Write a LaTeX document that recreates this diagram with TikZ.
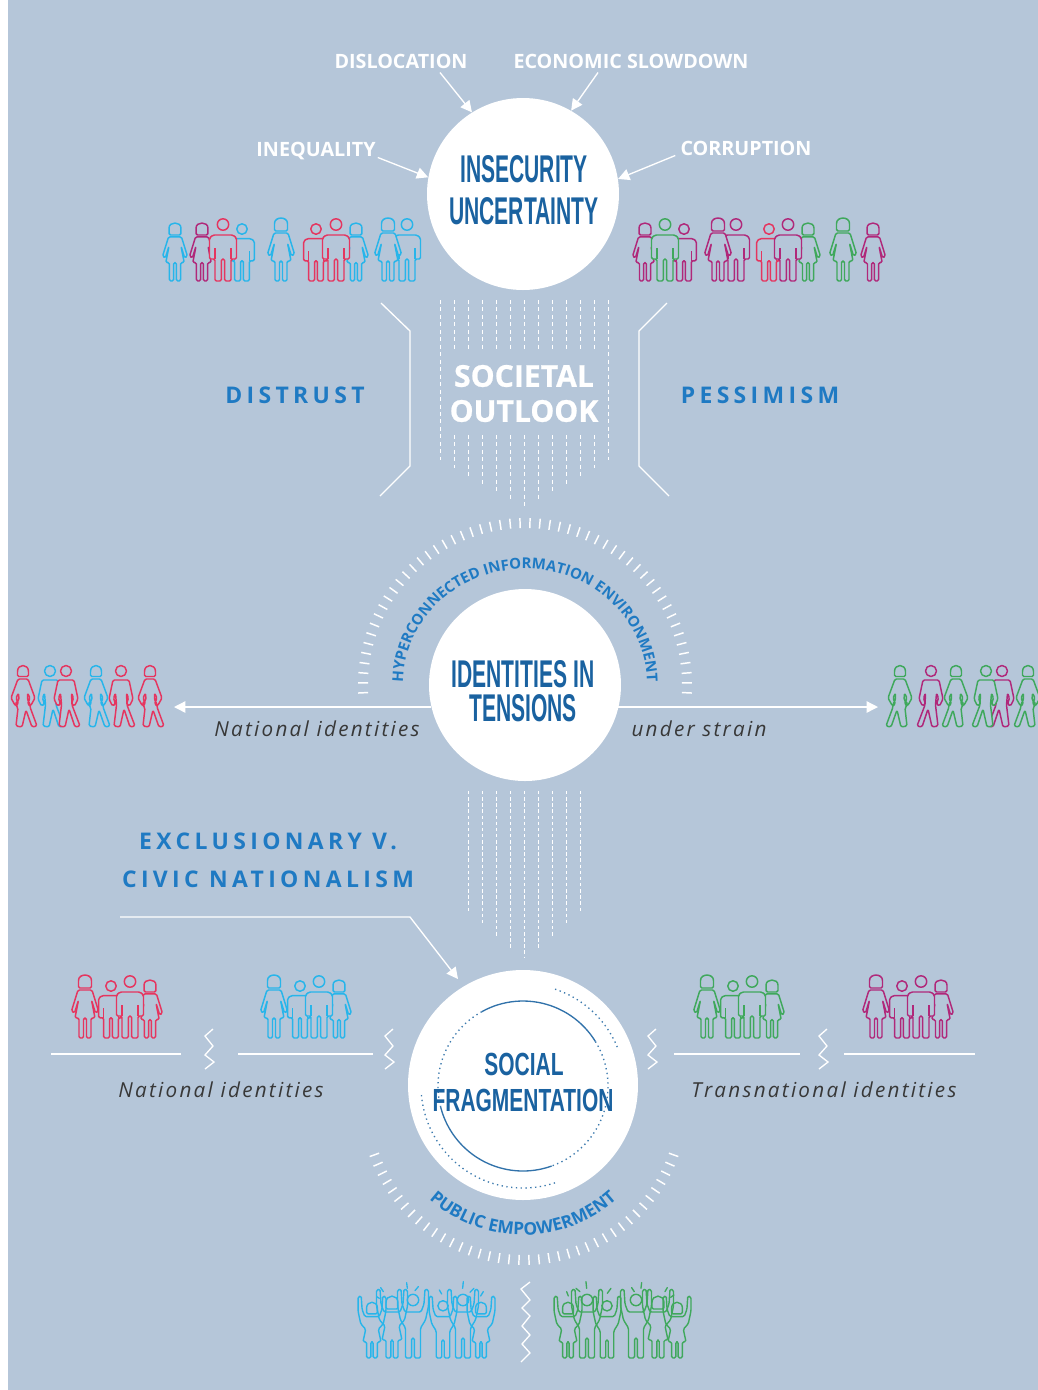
\documentclass[tikz,border=0pt]{standalone}
\usepackage{fontspec}
\usetikzlibrary{arrows.meta,calc,decorations.text}
\setmainfont{Open Sans}
\newfontfamily\osw[FakeStretch=.545]{Liberation Sans}
\newfontfamily\oswb[FakeStretch=.655]{Liberation Sans}
\newfontfamily\opn{Open Sans}
\definecolor{bg}{HTML}{B5C6D9}
\definecolor{deep}{HTML}{1A62A0}
\definecolor{lbl}{HTML}{1F7AC3}
\definecolor{cblue}{HTML}{27B5EA}
\definecolor{cred}{HTML}{E5355F}
\definecolor{cpur}{HTML}{B0287A}
\definecolor{cgrn}{HTML}{3FA85C}
\tikzset{
 iconline/.style={draw=#1,fill=bg,line width=1.1pt,rounded corners=1.1pt,line join=round},
 openline/.style={draw=#1,line width=1.05pt,rounded corners=1.1pt,line join=round},
 rayline/.style={draw=#1,line width=1pt,line cap=round},
 wline/.style={draw=white,line width=1pt},
 arr/.style={draw=white,line width=1pt,-{Triangle[length=8.5pt,width=8.5pt]}},
 tickmark/.style={draw=white,line width=1.1pt},
 dashA/.style={draw=white,line width=.9pt,dash pattern=on 3pt off 2.6pt},
 dashB/.style={draw=white,line width=.8pt,dash pattern=on 2.6pt off 2pt},
 zigline/.style={draw=white,line width=1pt},
 capt/.style={inner sep=0pt,align=center},
 bigcap/.style={capt,text=deep,font=\osw\bfseries\fontsize{29}{32}\selectfont},
 fragcap/.style={capt,text=deep,font=\oswb\bfseries\fontsize{24}{28}\selectfont},
 whitelab/.style={capt,text=white,font=\opn\bfseries\fontsize{14.8}{16}\selectfont},
 heavylab/.style={capt,text=white,font=\opn\bfseries\fontsize{22.6}{26}\selectfont\addfontfeatures{FakeBold=.7}},
 blucap/.style={capt,text=lbl,font=\opn\bfseries\fontsize{17.2}{20}\selectfont\addfontfeatures{LetterSpace=19}},
 italab/.style={capt,text=black!78,font=\opn\itshape\fontsize{15.5}{17}\selectfont\addfontfeatures{LetterSpace=11}},
 solidarc/.style={draw=deep!90,line width=1pt},
 dotarc/.style={draw=deep!85,line width=1pt,dash pattern=on 1pt off 2.6pt},
}
\newcommand\pmMan[4]{\begin{scope}[shift={(#1,#2)},scale=#4]
 \path[iconline=#3] (-8,0)--(-1.6,0)--(-1.6,-22)--(1.6,-22)--(1.6,0)--(8,0)--(8,-22)--(13.5,-22)--(13.5,-43)--(10,-46)--(-10,-46)--(-13.5,-43)--(-13.5,-22)--(-8,-22)--cycle;
 \draw[draw=#3,line width=1.1pt] (-8,-22)--(-8,-33) (8,-22)--(8,-33);
 \path[iconline=#3] (0,-56.5) circle[radius=5.7];
\end{scope}}
\newcommand\pmWoman[4]{\begin{scope}[shift={(#1,#2)},scale=#4]
 \path[iconline=#3] (-7,-48)--(7,-48)--(13.5,-27)--(10.5,-25)--(6.5,-38)--(10,-20)--(6,-20)--(6,0)--(1.5,0)--(1.5,-20)--(-1.5,-20)--(-1.5,0)--(-6,0)--(-6,-20)--(-10,-20)--(-6.5,-38)--(-10.5,-25)--(-13.5,-27)--cycle;
 \path[iconline=#3] (-6.5,-50)--(-6.5,-56) .. controls (-6.5,-64.8) and (6.5,-64.8) .. (6.5,-56)--(6.5,-50)--cycle;
\end{scope}}
\newcommand\pmWalkM[4]{\begin{scope}[shift={(#1,#2)},xscale=#4]
 \path[iconline=#3] (-8,-47)--(8,-47)--(12,-28)--(8.5,-21)--(5.5,-23)--(7.5,-29)--(5.5,-34)--(6,-22)--(14,-1)--(9,0)--(3,-18)--(-1,0)--(-7,-1)--(-4.5,-22)--(-5.5,-34)--(-7.5,-29)--(-5.5,-23)--(-8.5,-21)--(-12,-28)--cycle;
 \path[iconline=#3] (0,-56) circle[radius=5.5];
\end{scope}}
\newcommand\pmWalkW[4]{\begin{scope}[shift={(#1,#2)},xscale=#4]
 \path[iconline=#3] (-5,-48)--(5,-48)--(12,-29)--(7.5,-21)--(4.5,-23)--(7,-29)--(4.5,-34)--(4.5,-27)--(7,-23)--(7,-20)--(14,-1)--(9,0)--(3,-17)--(-1,0)--(-7,-1)--(-5,-19)--(-8,-23)--(-4,-27)--(-4.5,-34)--(-7,-29)--(-4.5,-23)--(-7.5,-21)--(-12,-29)--cycle;
 \path[iconline=#3] (-5.5,-50.5)--(-5.5,-54) .. controls (-5.5,-63.5) and (5.5,-63.5) .. (5.5,-54)--(5.5,-50.5)--cycle;
\end{scope}}
\newcommand\pmCheerM[4]{\begin{scope}[shift={(#1,#2)},scale=#4]
 \path[openline=#3] (-7.5,0)--(-1.4,0)--(-1.4,-20)--(1.4,-20)--(1.4,0)--(7.5,0)--(7.5,-30)--(12.5,-38)--(15.5,-52)--(15.5,-68)--(12,-69)--(11,-54)--(8,-46)--(-8,-46)--(-11,-54)--(-12,-69)--(-15.5,-68)--(-15.5,-52)--(-12.5,-38)--(-7.5,-30)--cycle;
 \path[openline=#3] (0,-58) circle[radius=5.7];
\end{scope}}
\newcommand\pmCheerW[4]{\begin{scope}[shift={(#1,#2)},scale=#4]
 \path[openline=#3] (-6,0)--(-1.2,0)--(-1.2,-18)--(1.2,-18)--(1.2,0)--(6,0)--(6,-18)--(10,-18)--(7,-32)--(12.5,-38)--(15.5,-52)--(15.5,-68)--(12,-69)--(11,-54)--(8,-46)--(-8,-46)--(-11,-54)--(-12,-69)--(-15.5,-68)--(-15.5,-52)--(-12.5,-38)--(-7,-32)--(-10,-18)--(-6,-18)--cycle;
 \path[openline=#3] (-6,-49)--(-6,-54) .. controls (-6,-64) and (6,-64) .. (6,-54)--(6,-49)--cycle;
\end{scope}}
\newcommand\smallzig[2]{\draw[zigline,shift={(#1,#2)}] (8,0)--(0,7)--(8,17)--(0,26)--(9,33)--(0,40);}
\newcommand\famgroup[2]{\pmWoman{#1}{1038}{#2}{1}\pmWoman{#1+65}{1038}{#2}{.92}\pmMan{#1+26}{1038}{#2}{.92}\pmMan{#1+45}{1038}{#2}{1}}
\begin{document}
\begin{tikzpicture}[x=.75pt,y=-.75pt]
\useasboundingbox (0,0) rectangle (1038,1390);
\fill[white] (0,0) rectangle (8,1390);
\fill[bg] (8,0) rectangle (1038,1390);

% circles
\node[circle,fill=white,inner sep=0pt,minimum size=144pt] (top) at (523,194) {};
\node[circle,fill=white,inner sep=0pt,minimum size=144pt] (mid) at (525,685) {};
\node[circle,fill=white,inner sep=0pt,minimum size=172.5pt] (bot) at (523,1085) {};

% titles
\node[bigcap] (t1) at (524,169) {INSECURITY};
\node[bigcap] (t2) at (524,211) {UNCERTAINTY};
\node[bigcap] (t3) at (523,674) {IDENTITIES IN};
\node[bigcap] (t4) at (523,708) {TENSIONS};

% top labels and arrows
\node[whitelab] (disloc) at (401,61) {DISLOCATION};
\node[whitelab] (econ) at (631,61) {ECONOMIC SLOWDOWN};
\node[whitelab] (ineq) at (316,151.5) {INEQUALITY};
\node[whitelab] (corr) at (746,148.5) {CORRUPTION};
\draw[arr] ($(disloc.south)+(39,4)$) -- (top.122.6);
\draw[arr] ($(econ.south)+(-33,4)$) -- (top.60.5);
\draw[arr] ($(ineq.east)+(2,6)$) -- (top.170);
\draw[arr] ($(corr.west)+(-5,7)$) -- (top.9.6);

% top icons, left
\pmWoman{175}{281}{cblue}{.92}
\pmWoman{202}{281}{cpur}{.92}
\pmMan{242}{281}{cblue}{.92}
\pmMan{223}{281}{cred}{1}
\pmWoman{281}{281}{cblue}{1}
\pmWoman{356}{281}{cblue}{.92}
\pmMan{316}{281}{cred}{.92}
\pmMan{336}{281}{cred}{1}
\pmMan{407}{281}{cblue}{1}
\pmWoman{388}{281}{cblue}{1}
% top icons, right
\pmWoman{645}{281}{cpur}{.92}
\pmMan{684}{281}{cpur}{.92}
\pmMan{665}{281}{cgrn}{1}
\pmMan{736}{281}{cpur}{1}
\pmWoman{718}{281}{cpur}{1}
\pmWoman{808}{281}{cgrn}{.92}
\pmMan{769}{281}{cred}{.92}
\pmMan{788}{281}{cpur}{1}
\pmWoman{843}{281}{cgrn}{1}
\pmWoman{873}{281}{cpur}{.92}

% societal outlook
\foreach \xx/\ye in {454.3/468,468.3/477,482.3/485,496.3/492,510.3/500,524.3/508,538.3/500,552.3/492,566.3/485,580.3/477,594.3/468}{
  \draw[dashA] (\xx,300) -- (\xx,351);
  \draw[dashA] (\xx,435) -- (\xx,\ye);
}
\draw[dashA] (440.7,300) -- (440.7,460);
\draw[dashA] (608.3,300) -- (608.3,460);
\node[heavylab] (s1) at (524,376) {SOCIETAL};
\node[heavylab] (s2) at (524,411) {OUTLOOK};
\draw[wline] (381,303) -- (410,331) -- (410,466) -- (380,496);
\draw[wline] (667,303) -- (639,331) -- (639,466) -- (669,496);
\node[blucap] (dist) at (295,395) {DISTRUST};
\node[blucap] (pess) at (760,395) {PESSIMISM};

% middle arc
\foreach \ang in {-2.75,0.75,...,183}{
  \draw[tickmark] ({525+157*cos(\ang)},{685-157*sin(\ang)}) -- ({525+167*cos(\ang)},{685-167*sin(\ang)});
}
\path[decorate,decoration={text along path,text align=center,text color=lbl,
  text={|\opn\bfseries\fontsize{11.2}{13}\selectfont|HYPERCONNECTED INFORMATION ENVIRONMENT}}]
  (403,684) .. controls (403,620) and (457.6,569) .. (525,569) .. controls (592.4,569) and (647,620) .. (647,684);

% middle arrows
\coordinate (la) at (174,707);
\coordinate (ra) at (878,707);
\draw[arr] (mid.193.3 |- la) -- (la);
\draw[arr] (mid.346.7 |- ra) -- (ra);
\node[italab] (nat1) at (317,729) {National identities};
\node[italab] (und) at (699,729) {under strain};

% walking figures
\pmWalkW{23}{727}{cred}{1}
\pmWalkM{50}{727}{cblue}{1}
\pmWalkM{66}{727}{cred}{1}
\pmWalkW{96}{727}{cblue}{1}
\pmWalkM{121}{727}{cred}{1}
\pmWalkW{150}{727}{cred}{1}
\pmWalkW{900}{727}{cgrn}{-1}
\pmWalkM{931}{727}{cpur}{-1}
\pmWalkW{956}{727}{cgrn}{-1}
\pmWalkM{1002}{727}{cpur}{-1}
\pmWalkM{986}{727}{cgrn}{-1}
\pmWalkW{1028}{727}{cgrn}{-1}

% lower dashes
\foreach \xx/\ye in {468.3/913,482.3/925,496.3/937,510.3/948,524.3/958,538.3/948,552.3/937,566.3/925,580.3/913}{
  \draw[dashB] (\xx,791) -- (\xx,\ye);
}
\node[blucap] (ex1) at (268,841) {EXCLUSIONARY V.};
\node[blucap] (ex2) at (268,879) {CIVIC NATIONALISM};
\coordinate (fa) at (120,917);
\coordinate (fb) at (410,917);
\coordinate (fc) at (458,979);
\draw[arr] (fa) -- (fb) -- (fc);

% bottom circle decoration
\draw[solidarc] plot[smooth,domain=241:328.4,samples=30] ({523+85*cos(\x)},{1086+85*sin(\x)});
\draw[solidarc] plot[smooth,domain=70.3:165.6,samples=30] ({523+85*cos(\x)},{1086+85*sin(\x)});
\draw[dotarc] plot[smooth,domain=165.6:241,samples=30] ({523+85*cos(\x)},{1086+85*sin(\x)});
\draw[dotarc] plot[smooth,domain=328.4:430.3,samples=30] ({523+85*cos(\x)},{1086+85*sin(\x)});
\draw[dotarc] plot[smooth,domain=288.3:338.7,samples=20] ({523+102*cos(\x)},{1086+102*sin(\x)});
\draw[dotarc] plot[smooth,domain=71.7:176.6,samples=30] ({523+102*cos(\x)},{1086+102*sin(\x)});
\node[fragcap] (f1) at (524,1064) {SOCIAL};
\node[fragcap] (f2) at (523,1100) {FRAGMENTATION};

% lower groups
\famgroup{85}{cred}
\famgroup{274}{cblue}
\famgroup{707}{cgrn}
\famgroup{876}{cpur}
\draw[wline] (51,1054) -- (181,1054);
\draw[wline] (238,1054) -- (373,1054);
\draw[wline] (674,1054) -- (800,1054);
\draw[wline] (844,1054) -- (975,1054);
\smallzig{205}{1029}
\smallzig{385}{1029}
\smallzig{648}{1029}
\smallzig{819}{1029}
\node[italab] (nat2) at (221,1090) {National identities};
\node[italab] (trans) at (824,1090) {Transnational identities};

% bottom arc
\foreach \ang in {19.8,23.4,...,161}{
  \draw[tickmark] ({524+154*cos(\ang)},{1101+154*sin(\ang)}) -- ({524+164*cos(\ang)},{1101+164*sin(\ang)});
}
\path[decorate,decoration={text along path,text align=center,text color=lbl,
  text={|\opn\bfseries\fontsize{13}{15}\selectfont|PUBLIC EMPOWERMENT}}]
  (428.7,1198.8) .. controls (482.3,1247.1) and (563.7,1247.1) .. (617.3,1198.8);

% cheering figures
\pmCheerW{372}{1358}{cblue}{.9}
\pmCheerW{392}{1358}{cblue}{1}
\pmCheerM{413}{1358}{cblue}{1}
\pmCheerM{443}{1358}{cblue}{.9}
\pmCheerM{463}{1358}{cblue}{1}
\pmCheerW{481}{1358}{cblue}{.9}
\pmCheerW{568}{1358}{cgrn}{.9}
\pmCheerM{587}{1358}{cgrn}{1}
\pmCheerM{607}{1358}{cgrn}{.9}
\pmCheerM{636}{1358}{cgrn}{1}
\pmCheerW{658}{1358}{cgrn}{1}
\pmCheerW{677}{1358}{cgrn}{.9}
\begin{scope}[shift={(350,960)},scale=.3333]
 \draw[rayline=cblue] (92,983)--(100,995) (80,1010)--(88,1015) (170,968)--(172,985) (205,980)--(195,992) (268,990)--(275,1002) (340,965)--(338,985) (372,985)--(360,997) (400,995)--(392,1008);
 \draw[rayline=cgrn] (650,995)--(655,1008) (678,985)--(690,995) (708,965)--(710,985) (783,985)--(772,1000) (845,983)--(853,995) (875,968)--(873,985) (952,983)--(945,995) (972,1005)--(962,1012);
\end{scope}
\draw[zigline] (530,1282)--(521,1289)--(530,1300)--(522,1308)--(530,1316)--(522,1326)--(530,1335)--(522,1344)--(530,1353)--(521,1362);
\end{tikzpicture}
\end{document}
